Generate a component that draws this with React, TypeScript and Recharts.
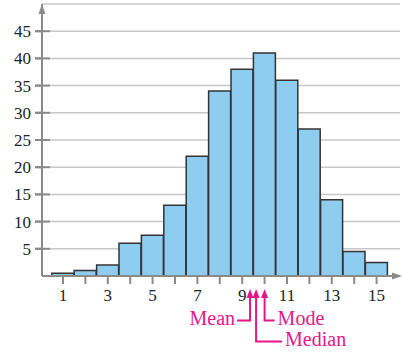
import React from 'react';
import { BarChart, Bar, XAxis, YAxis, CartesianGrid, ReferenceDot } from 'recharts';

const classes = [1, 2, 3, 4, 5, 6, 7, 8, 9, 10, 11, 12, 13, 14, 15];
const frequencies = [0.5, 1, 2, 6, 7.5, 13, 22, 34, 38, 41, 36, 27, 14, 4.5, 2.5];
const yTicks = [5, 10, 15, 20, 25, 30, 35, 40, 45];
const xTicks = classes;
const meanValue = 9.35;
const medianValue = 9.62;
const modeValue = 10;

const data = classes.map((c, i) => ({ x: c, count: frequencies[i] }));

const X_MIN = 0.0625;
const X_MAX = 16.045;
const Y_MAX = 50;

const FONT = "'Liberation Serif', 'Times New Roman', serif";
const AXIS = '#8a8a8a';
const MAGENTA = '#e5168b';

const YTick = (p: any) => (
  <g>
    <line x1={p.x + 4} x2={p.x + 19} y1={p.y} y2={p.y} stroke={AXIS} strokeWidth={2} />
    <text x={p.x} y={p.y} dy="0.355em" textAnchor="end" style={{ fontFamily: FONT, fontSize: 17 }} fill="#222">
      {p.payload.value}
    </text>
  </g>
);

const XTick = (p: any) => {
  const v = p.payload.value;
  return (
    <text x={p.x} y={p.y} dy="0.71em" textAnchor="middle" style={{ fontFamily: FONT, fontSize: 17 }} fill="#222">
      {v % 2 === 1 ? v : ''}
    </text>
  );
};

const Arrow = (cx: number, cy: number) => (
  <path d={`M${cx},${cy + 13} L${cx - 3.5},${cy + 22} L${cx + 3.5},${cy + 22} Z`} fill={MAGENTA} />
);

const labelStyle = { fontFamily: FONT, fontSize: 20 };

const MeanShape = (p: any) => {
  const { cx, cy } = p;
  return (
    <g>
      {Arrow(cx, cy)}
      <polyline points={`${cx},${cy + 20} ${cx},${cy + 44.5} ${cx - 13},${cy + 44.5}`} fill="none" stroke={MAGENTA} strokeWidth={2} />
      <text x={cx - 15} y={cy + 49} textAnchor="end" style={labelStyle} fill={MAGENTA}>Mean</text>
    </g>
  );
};

const MedianShape = (p: any) => {
  const { cx, cy } = p;
  return (
    <g>
      {Arrow(cx, cy)}
      <polyline points={`${cx},${cy + 20} ${cx},${cy + 65.5} ${cx + 26},${cy + 65.5}`} fill="none" stroke={MAGENTA} strokeWidth={2} />
      <text x={cx + 29} y={cy + 70} textAnchor="start" style={labelStyle} fill={MAGENTA}>Median</text>
    </g>
  );
};

const ModeShape = (p: any) => {
  const { cx, cy } = p;
  return (
    <g>
      {Arrow(cx, cy)}
      <polyline points={`${cx},${cy + 20} ${cx},${cy + 44.5} ${cx + 10},${cy + 44.5}`} fill="none" stroke={MAGENTA} strokeWidth={2} />
      <text x={cx + 13} y={cy + 49} textAnchor="start" style={labelStyle} fill={MAGENTA}>Mode</text>
    </g>
  );
};

const YArrow = (p: any) => {
  const { cx, cy } = p;
  return <path d={`M${cx},${cy} L${cx - 3.5},${cy + 10} L${cx + 3.5},${cy + 10} Z`} fill={AXIS} />;
};

const XArrow = (p: any) => {
  const { cx, cy } = p;
  return <path d={`M${cx + 2},${cy} L${cx - 8},${cy - 3.5} L${cx - 8},${cy + 3.5} Z`} fill={AXIS} />;
};

export default function App() {
  return (
    <div style={{ position: 'absolute', left: 0, top: 0, width: 402, height: 355, background: '#fff', fontFamily: FONT }}>
      <BarChart
        width={402}
        height={355}
        data={data}
        margin={{ top: 4, right: 2, bottom: 0, left: 0 }}
        barCategoryGap={0}
        barGap={0}
      >
        <CartesianGrid horizontal vertical={false} stroke="#c8c8c8" strokeWidth={1.5} />
        <XAxis
          dataKey="x"
          type="number"
          domain={[X_MIN, X_MAX]}
          allowDataOverflow
          ticks={xTicks}
          interval={0}
          height={79}
          tick={<XTick />}
          tickSize={8}
          tickMargin={5}
          tickLine={{ stroke: AXIS, strokeWidth: 2 }}
          axisLine={{ stroke: AXIS, strokeWidth: 2 }}
        />
        <YAxis
          type="number"
          domain={[0, Y_MAX]}
          allowDataOverflow
          ticks={yTicks}
          interval={0}
          width={42}
          tick={<YTick />}
          tickSize={7}
          tickMargin={4}
          tickLine={{ stroke: AXIS, strokeWidth: 2 }}
          axisLine={{ stroke: AXIS, strokeWidth: 2 }}
        />
        <Bar dataKey="count" fill="#8ecdf0" stroke="#333" strokeWidth={1.5} isAnimationActive={false} />
        <ReferenceDot x={X_MIN} y={Y_MAX} ifOverflow="visible" shape={<YArrow />} />
        <ReferenceDot x={X_MAX} y={0} ifOverflow="visible" shape={<XArrow />} />
        <ReferenceDot x={meanValue} y={0} ifOverflow="visible" shape={<MeanShape />} />
        <ReferenceDot x={medianValue} y={0} ifOverflow="visible" shape={<MedianShape />} />
        <ReferenceDot x={modeValue} y={0} ifOverflow="visible" shape={<ModeShape />} />
      </BarChart>
    </div>
  );
}
